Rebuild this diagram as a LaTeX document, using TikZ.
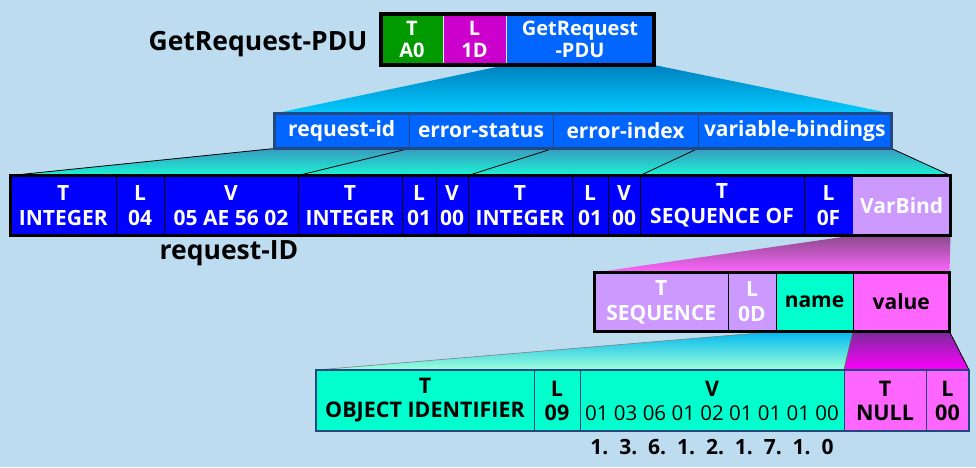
\documentclass[tikz,border=0pt]{standalone}
\usepackage{fontspec}
\setmainfont{Open Sans}
\pgfdeclarelayer{bglayer}
\pgfdeclarelayer{traplayer}
\pgfsetlayers{bglayer,traplayer,main}
\begin{document}
\begin{tikzpicture}[x=1pt,y=-1pt,
  cellbox/.style={anchor=north west, inner sep=0pt, outer sep=0pt, align=center,
    text=white, font=\bfseries\fontsize{21}{25}\selectfont, draw=black, line width=0.6pt},
  blacktext/.style={text=black},
  lbl/.style={inner sep=0pt, font=\bfseries\fontsize{26.5}{30}\selectfont, text=black},
  rowborder/.style={draw=black, line width=3pt},
  trapline/.style={draw=black, line width=0.8pt}]
\definecolor{bg}{HTML}{BDDCF0}
\definecolor{grn}{HTML}{009900}
\definecolor{magc}{HTML}{CC00CC}
\definecolor{bluA}{HTML}{0066FF}
\definecolor{bluB}{HTML}{0000FF}
\definecolor{lav}{HTML}{CC99FF}
\definecolor{aqua}{HTML}{00FFCC}
\definecolor{pink}{HTML}{FF66FF}
\definecolor{navy}{HTML}{22497F}
\definecolor{tAtop}{HTML}{0080C0}
\definecolor{tAbot}{HTML}{00CCFF}
\definecolor{tBtop}{HTML}{3A9AC0}
\definecolor{tBbot}{HTML}{1AF5D5}
\definecolor{tCtop}{HTML}{8A4A8A}
\definecolor{tCbot}{HTML}{FF66FF}
\definecolor{tDtop}{HTML}{00B8F0}
\definecolor{tDbot}{HTML}{A0FFD8}
\definecolor{tEtop}{HTML}{7A2A9A}
\definecolor{tEbot}{HTML}{FF00FF}
\begin{pgfonlayer}{bglayer}
\fill[bg] (0,0) rectangle (976,467);
\end{pgfonlayer}
\useasboundingbox (0,0) rectangle (976,467);

% row 1
\tikzset{r1/.style={cellbox, font=\bfseries\fontsize{20}{22}\selectfont, draw=white!80!gray, minimum height=51pt}}
\node[r1, fill=grn, minimum width=62pt] (t0) at (381,14) {T\\A0};
\node[r1, fill=magc, minimum width=63pt] (l0) at (443,14) {L\\1D};
\node[r1, fill=bluA, minimum width=148pt] (v0) at (506,14) {GetRequest\\-PDU};
\draw[rowborder, line width=4pt] (t0.north west) rectangle (v0.south east);
\node[lbl] (lab0) at (258,44) {GetRequest-PDU};

% row 2
\node[cellbox, fill=bluA, draw=navy, minimum width=134.5pt, minimum height=35pt] (rid) at (274.5,113.5) {request-id};
\node[cellbox, fill=bluA, draw=navy, minimum width=144pt, minimum height=35pt] (es) at (409,113.5) {error-status};
\node[cellbox, fill=bluA, draw=navy, minimum width=145pt, minimum height=35pt] (ei) at (553,113.5) {error-index};
\node[cellbox, fill=bluA, draw=navy, minimum width=193.5pt, minimum height=35pt] (vbs) at (698,113.5) {variable-bindings};
\draw[rowborder, draw=navy] (rid.north west) rectangle (vbs.south east);

% row 3
\node[cellbox, fill=bluB, minimum width=105.5pt, minimum height=60pt] (t1) at (10.5,175.5) {T\\INTEGER};
\node[cellbox, fill=bluB, minimum width=48pt, minimum height=60pt] (l1) at (116,175.5) {L\\04};
\node[cellbox, fill=bluB, minimum width=134pt, minimum height=60pt] (v1) at (164,175.5) {V\\05 AE 56 02};
\node[cellbox, fill=bluB, minimum width=104pt, minimum height=60pt] (t2) at (298,175.5) {T\\INTEGER};
\node[cellbox, fill=bluB, minimum width=34pt, minimum height=60pt] (l2) at (402,175.5) {L\\01};
\node[cellbox, fill=bluB, minimum width=32pt, minimum height=60pt] (v2) at (436,175.5) {V\\00};
\node[cellbox, fill=bluB, minimum width=104pt, minimum height=60pt] (t3) at (468,175.5) {T\\INTEGER};
\node[cellbox, fill=bluB, minimum width=36pt, minimum height=60pt] (l3) at (572,175.5) {L\\01};
\node[cellbox, fill=bluB, minimum width=32pt, minimum height=60pt] (v3) at (608,175.5) {V\\00};
\node[cellbox, fill=bluB, minimum width=164pt, minimum height=60pt] (tsq) at (640,175.5) {T\\SEQUENCE OF};
\node[cellbox, fill=bluB, minimum width=49pt, minimum height=60pt] (lsq) at (804,175.5) {L\\0F};
\node[cellbox, fill=lav, draw=none, minimum width=97.5pt, minimum height=60pt] (vb) at (853,175.5) {VarBind};
\draw[rowborder, line width=3.5pt] (t1.north west) rectangle (vb.south east);
\node[lbl] (rqid) at (229,253) {request-ID};

% row 4
\node[cellbox, fill=lav, minimum width=133.5pt, minimum height=59pt] (t4) at (594.5,272.5) {T\\SEQUENCE};
\node[cellbox, fill=lav, minimum width=48pt, minimum height=59pt] (l4) at (728,272.5) {L\\0D};
\node[cellbox, fill=aqua, blacktext, minimum width=77pt, minimum height=59pt] (nm) at (776,272.5) {name};
\node[cellbox, fill=pink, blacktext, minimum width=96.5pt, minimum height=59pt] (val) at (853,272.5) {value};
\draw[rowborder] (t4.north west) rectangle (val.south east);

% row 5
\tikzset{r5/.style={cellbox, blacktext, draw=navy, font=\bfseries\fontsize{21.5}{24}\selectfont, minimum height=61pt}}
\node[r5, fill=aqua, minimum width=218pt] (t5) at (316,370) {T\\OBJECT IDENTIFIER};
\node[r5, fill=aqua, minimum width=46pt] (l5) at (534,370) {L\\09};
\node[r5, fill=aqua, minimum width=264pt] (v5) at (580,370) {V\\{\mdseries\fontsize{20.5}{24}\selectfont 01 03 06 01 02 01 01 01 00}};
\node[r5, fill=pink, minimum width=82pt] (tn) at (844,370) {T\\NULL};
\node[r5, fill=pink, minimum width=43pt] (ln) at (926,370) {L\\00};
\draw[rowborder, draw=navy, line width=2.5pt] (t5.north west) rectangle (ln.south east);
\node[lbl, font=\bfseries\fontsize{21}{24}\selectfont] (oid) at (712,447) {1.\ \ 3.\ \ 6.\ \ 1.\ \ 2.\ \ 1.\ \ 7.\ \ 1.\ \ 0};

% trapezoids (behind rows)
\begin{pgfonlayer}{traplayer}
\shade[top color=tAtop, bottom color=tAbot]
  (v0.south west) -- (v0.south east) -- (vbs.north east) -- (rid.north west) -- cycle;
\shade[top color=tBtop, bottom color=tBbot]
  (rid.south west) -- (vbs.south east) -- (vb.north east) -- (t1.north west) -- cycle;
\draw[trapline] (rid.south west) -- (t1.north west);
\draw[trapline] (rid.south east) -- (t2.north west);
\draw[trapline] (es.south east) -- (t3.north west);
\draw[trapline] (ei.south east) -- (tsq.north west);
\draw[trapline] (vbs.south east) -- (vb.north east);
\shade[top color=tCtop, bottom color=tCbot]
  (vb.south west) -- (vb.south east) -- (val.north east) -- (t4.north west) -- cycle;
\shade[top color=tDtop, bottom color=tDbot, draw=gray, line width=0.6pt]
  (nm.south west) -- (nm.south east) -- (tn.north west) -- (t5.north west) -- cycle;
\shade[top color=tEtop, bottom color=tEbot]
  (val.south west) -- (val.south east) -- (ln.north east) -- (tn.north west) -- cycle;
\draw[trapline] (val.south east) -- (ln.north east);
\draw[trapline, draw=black!60] (val.south west) -- (tn.north west);
\end{pgfonlayer}
\end{tikzpicture}
\end{document}
